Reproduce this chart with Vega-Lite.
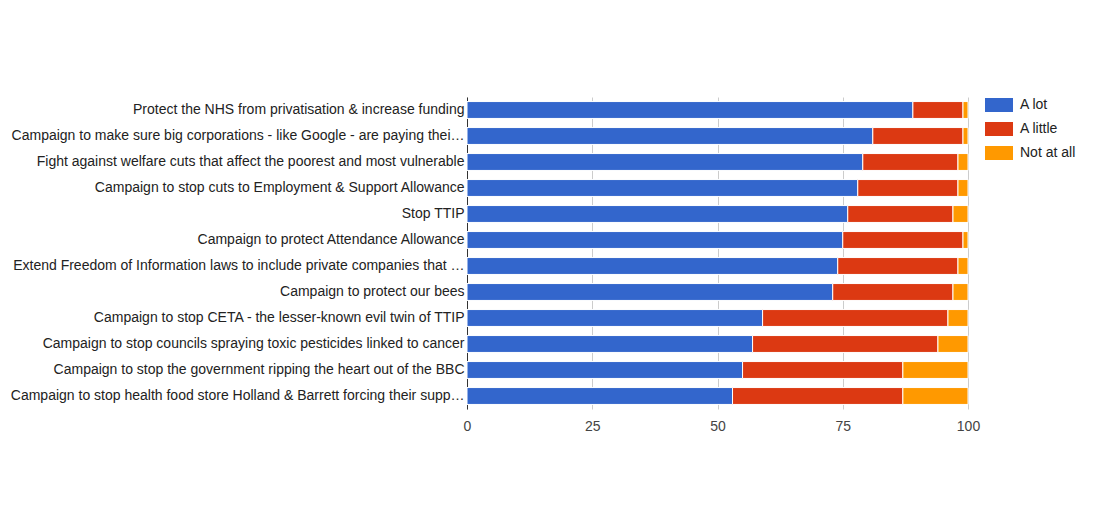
{
  "$schema": "https://vega.github.io/schema/vega-lite/v6.json",
  "width": 501,
  "height": 312,
  "autosize": {"type": "none"},
  "padding": {"left": 467, "top": 97, "right": 125, "bottom": 97},
  "background": "white",
  "config": {
    "font": "Liberation Sans",
    "view": {"stroke": null}
  },
  "data": {
    "values": [
      {"campaign": "Protect the NHS from privatisation & increase funding", "response": "A lot", "order": 1, "value": 89},
      {"campaign": "Protect the NHS from privatisation & increase funding", "response": "A little", "order": 2, "value": 10},
      {"campaign": "Protect the NHS from privatisation & increase funding", "response": "Not at all", "order": 3, "value": 1},
      {"campaign": "Campaign to make sure big corporations - like Google - are paying their fair share of tax", "response": "A lot", "order": 1, "value": 81},
      {"campaign": "Campaign to make sure big corporations - like Google - are paying their fair share of tax", "response": "A little", "order": 2, "value": 18},
      {"campaign": "Campaign to make sure big corporations - like Google - are paying their fair share of tax", "response": "Not at all", "order": 3, "value": 1},
      {"campaign": "Fight against welfare cuts that affect the poorest and most vulnerable", "response": "A lot", "order": 1, "value": 79},
      {"campaign": "Fight against welfare cuts that affect the poorest and most vulnerable", "response": "A little", "order": 2, "value": 19},
      {"campaign": "Fight against welfare cuts that affect the poorest and most vulnerable", "response": "Not at all", "order": 3, "value": 2},
      {"campaign": "Campaign to stop cuts to Employment & Support Allowance", "response": "A lot", "order": 1, "value": 78},
      {"campaign": "Campaign to stop cuts to Employment & Support Allowance", "response": "A little", "order": 2, "value": 20},
      {"campaign": "Campaign to stop cuts to Employment & Support Allowance", "response": "Not at all", "order": 3, "value": 2},
      {"campaign": "Stop TTIP", "response": "A lot", "order": 1, "value": 76},
      {"campaign": "Stop TTIP", "response": "A little", "order": 2, "value": 21},
      {"campaign": "Stop TTIP", "response": "Not at all", "order": 3, "value": 3},
      {"campaign": "Campaign to protect Attendance Allowance", "response": "A lot", "order": 1, "value": 75},
      {"campaign": "Campaign to protect Attendance Allowance", "response": "A little", "order": 2, "value": 24},
      {"campaign": "Campaign to protect Attendance Allowance", "response": "Not at all", "order": 3, "value": 1},
      {"campaign": "Extend Freedom of Information laws to include private companies that provide public services", "response": "A lot", "order": 1, "value": 74},
      {"campaign": "Extend Freedom of Information laws to include private companies that provide public services", "response": "A little", "order": 2, "value": 24},
      {"campaign": "Extend Freedom of Information laws to include private companies that provide public services", "response": "Not at all", "order": 3, "value": 2},
      {"campaign": "Campaign to protect our bees", "response": "A lot", "order": 1, "value": 73},
      {"campaign": "Campaign to protect our bees", "response": "A little", "order": 2, "value": 24},
      {"campaign": "Campaign to protect our bees", "response": "Not at all", "order": 3, "value": 3},
      {"campaign": "Campaign to stop CETA - the lesser-known evil twin of TTIP", "response": "A lot", "order": 1, "value": 59},
      {"campaign": "Campaign to stop CETA - the lesser-known evil twin of TTIP", "response": "A little", "order": 2, "value": 37},
      {"campaign": "Campaign to stop CETA - the lesser-known evil twin of TTIP", "response": "Not at all", "order": 3, "value": 4},
      {"campaign": "Campaign to stop councils spraying toxic pesticides linked to cancer", "response": "A lot", "order": 1, "value": 57},
      {"campaign": "Campaign to stop councils spraying toxic pesticides linked to cancer", "response": "A little", "order": 2, "value": 37},
      {"campaign": "Campaign to stop councils spraying toxic pesticides linked to cancer", "response": "Not at all", "order": 3, "value": 6},
      {"campaign": "Campaign to stop the government ripping the heart out of the BBC", "response": "A lot", "order": 1, "value": 55},
      {"campaign": "Campaign to stop the government ripping the heart out of the BBC", "response": "A little", "order": 2, "value": 32},
      {"campaign": "Campaign to stop the government ripping the heart out of the BBC", "response": "Not at all", "order": 3, "value": 13},
      {"campaign": "Campaign to stop health food store Holland & Barrett forcing their suppliers to test on animals", "response": "A lot", "order": 1, "value": 53},
      {"campaign": "Campaign to stop health food store Holland & Barrett forcing their suppliers to test on animals", "response": "A little", "order": 2, "value": 34},
      {"campaign": "Campaign to stop health food store Holland & Barrett forcing their suppliers to test on animals", "response": "Not at all", "order": 3, "value": 13}
    ]
  },
  "mark": {"type": "bar", "stroke": "white", "strokeWidth": 1},
  "encoding": {
    "y": {
      "field": "campaign",
      "type": "nominal",
      "sort": null,
      "scale": {"paddingInner": 0.35, "paddingOuter": 0.175},
      "axis": {
        "title": null,
        "ticks": false,
        "domain": true,
        "domainColor": "#333333",
        "labelFont": "Liberation Sans",
        "labelFontSize": 14,
        "labelColor": "#222222",
        "labelPadding": 3,
        "labelLimit": 456,
        "grid": false
      }
    },
    "x": {
      "field": "value",
      "type": "quantitative",
      "stack": "zero",
      "scale": {"domain": [0, 100], "nice": false},
      "axis": {
        "title": null,
        "values": [0, 25, 50, 75, 100],
        "domain": false,
        "ticks": false,
        "grid": true,
        "gridColor": "#cccccc",
        "labelFont": "Liberation Sans",
        "labelFontSize": 14,
        "labelColor": "#444444",
        "labelPadding": 10,
        "labelFlush": false
      }
    },
    "color": {
      "field": "response",
      "type": "nominal",
      "scale": {"domain": ["A lot", "A little", "Not at all"], "range": ["#3366cc", "#dc3912", "#ff9900"]},
      "legend": {
        "title": null,
        "orient": "none",
        "legendX": 525,
        "legendY": 1,
        "symbolType": "M-2,-1L2,-1L2,1L-2,1Z",
        "symbolSize": 196,
        "symbolStrokeWidth": 0,
        "symbolOpacity": 1,
        "labelFont": "Liberation Sans",
        "labelFontSize": 14,
        "labelColor": "#222222",
        "labelOffset": 14,
        "rowPadding": 10,
        "padding": 0
      }
    },
    "order": {"field": "order", "type": "quantitative"}
  }
}
